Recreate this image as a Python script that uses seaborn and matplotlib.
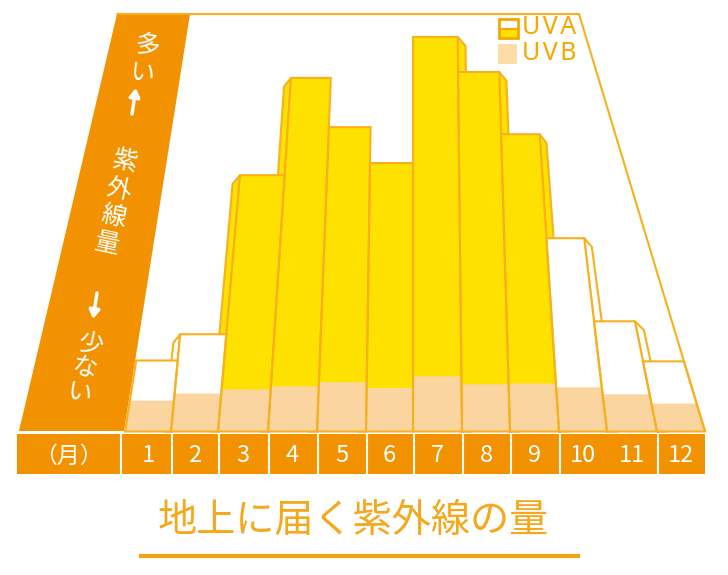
import numpy as np
import pandas as pd
import matplotlib
matplotlib.use("Agg")
import matplotlib.pyplot as plt
from matplotlib.patches import Polygon, Rectangle
from matplotlib.transforms import Transform
import seaborn as sns

# ------------------------
# Data (100 = top of the frame)
# ------------------------
months = list(range(1, 13))
uv_total = [17.0, 23.3, 61.4, 84.7, 72.9, 64.3, 94.5, 86.1, 71.2, 46.3, 26.4, 16.8]
uvb = [7.4, 9.1, 10.1, 10.8, 11.8, 10.3, 13.2, 11.3, 11.5, 10.6, 8.9, 6.7]
strength = ["weak", "weak"] + ["strong"] * 7 + ["weak"] * 3

# ------------------------
# Perspective of the drawing (reference pixels)
# ------------------------
BASE_Y = 431.5
PX_PER_UNIT = 4.175
EDGE_BASE = [125, 171, 218, 268, 317, 366, 413, 462, 510, 559, 607, 657, 705]
EDGE_LEAN = [.158, .095, .086, .065, .039, .015, 0, -.011, -.03, -.065, -.118, -.2, -.302]

ORANGE = "#F39200"
LINE = "#F8B01E"
YELLOW = "#FFE100"
PEACH = "#FBD5A0"
TITLE = "#F5A81C"


class Perspective(Transform):
    # (month, value) -> pixel position in the picture
    input_dims = 2
    output_dims = 2

    def transform_non_affine(self, values):
        values = np.asarray(values, dtype=float)
        edge = values[:, 0] - 0.5
        rise = values[:, 1] * PX_PER_UNIT
        x = np.interp(edge, range(13), EDGE_BASE) + np.interp(edge, range(13), EDGE_LEAN) * rise
        return np.column_stack([x, BASE_Y - rise])


sns.set_theme(style="white")
plt.rcParams["font.family"] = ["Noto Sans CJK JP", "DejaVu Sans"]

fig = plt.figure(figsize=(7.28, 5.75), dpi=100)
ax = fig.add_axes([0, 0, 1, 1])
to_pixels = Perspective() + ax.transData

df = pd.DataFrame({"month": months, "total": uv_total, "uvb": uvb, "strength": strength})

# ------------------------
# Axis panel and frame
# ------------------------
ax.add_patch(Polygon([(117, 14), (190, 14), (124, 431), (19, 431)], fc=ORANGE, ec="none"))
ax.plot([117, 579, 705], [14, 14, 431], color=LINE, lw=1.5)

# ------------------------
# Side faces, behind the fronts
# ------------------------
for month, height in zip(months, uv_total):
    if month in (1, 12):
        continue
    side = -1 if month <= 6 else 1
    edge = month + side * 0.5
    depth = -0.15 if month <= 6 else 0.19
    face = YELLOW if strength[month - 1] == "strong" else "white"
    corners = [(edge, 0), (edge, height), (edge + depth, height - 2.1), (edge + depth, 0)]
    ax.add_patch(Polygon(corners, closed=True, fc=face, ec=LINE, lw=1.5, transform=to_pixels))

# ------------------------
# Bars
# ------------------------
sns.barplot(data=df, x="month", y="total", hue="strength", native_scale=True, width=1,
            dodge=False, palette={"strong": YELLOW, "weak": "white"}, saturation=1,
            errorbar=None, legend=False, linewidth=0, ax=ax)
sns.barplot(data=df, x="month", y="uvb", native_scale=True, width=1, color=PEACH,
            saturation=1, errorbar=None, linewidth=0, ax=ax)
sns.barplot(data=df, x="month", y="total", native_scale=True, width=1, color=LINE,
            saturation=1, errorbar=None, fill=False, linewidth=1.5, ax=ax)
for container in ax.containers:
    for bar in container:
        bar.set_transform(to_pixels)

# ------------------------
# Month strip
# ------------------------
ax.add_patch(Rectangle((17, 433.5), 688, 40, fc=ORANGE, ec="none"))
ax.plot([121, 121], [433.5, 473.5], color="white", lw=1.5)
for i, x in enumerate(EDGE_BASE[1:-1], start=1):
    if i != 10:  # no divider between 10 and 11 in the original
        ax.plot([x + 1, x + 1], [433.5, 473.5], color="white", lw=1.5)
for month, left, right in zip(months, EDGE_BASE[:-1], EDGE_BASE[1:]):
    ax.text((left + right) / 2, 456, str(month), color="white", fontsize=17,
            ha="center", va="center")
ax.text(68, 456, "（月）", color="white", fontsize=16.5, ha="center", va="center")

# ------------------------
# Panel text
# ------------------------
panel_style = dict(color="white", fontsize=18, ha="center", va="center")
ax.text(145, 60, "多\nい", rotation=-9, linespacing=1.15, **panel_style)
ax.text(116, 203, "紫\n外\n線\n量", rotation=-12, linespacing=1.1, **panel_style)
ax.text(85, 369, "少\nな\nい", rotation=-12, linespacing=0.95, **panel_style)
arrow = dict(arrowstyle="-|>,head_width=0.26,head_length=0.42", color="white", lw=2.5, shrinkA=0, shrinkB=0)
ax.annotate("", xy=(136, 88), xytext=(132, 114), arrowprops=arrow)
ax.annotate("", xy=(93, 319), xytext=(97, 293), arrowprops=arrow)

# ------------------------
# Legend
# ------------------------
ax.add_patch(Rectangle((499, 29), 19, 9, fc=YELLOW, ec="none"))
ax.add_patch(Rectangle((499, 19), 19, 19, fc="none", ec="#F6A800", lw=2))
ax.plot([499, 518], [29, 29], color="#F6A800", lw=1.5)
ax.add_patch(Rectangle((498, 44), 19, 20, fc="#FDDCA8", ec="none"))
legend_style = dict(color="#F6A800", fontsize=18, ha="left", va="center",
                    family=["Noto Sans", "DejaVu Sans"], fontweight="light")
ax.text(522, 28, "U\u200aV\u200aA", **legend_style)
ax.text(522, 54, "U\u200aV\u200aB", **legend_style)

# ------------------------
# Title
# ------------------------
ax.text(353, 521, "地上に届く紫外線の量", color=TITLE, fontsize=28.2, ha="center", va="center")
ax.plot([139, 580], [556, 556], color="#F3A511", lw=3, solid_capstyle="butt")

ax.set_xlim(0, 728)
ax.set_ylim(575, 0)
ax.set_axis_off()
fig.savefig("out.png", dpi=100)
